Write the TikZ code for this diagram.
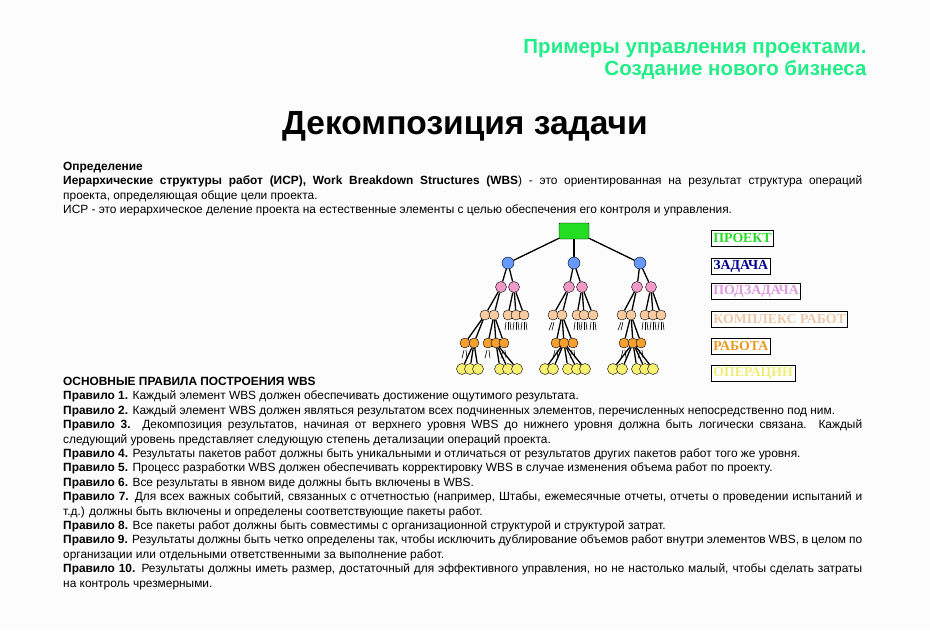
\documentclass[tikz,border=0pt]{standalone}
\usepackage{fontspec}
\setmainfont{Liberation Sans}
\newfontfamily\serifleg{Liberation Serif}
\definecolor{hdr}{HTML}{22EE88}
\definecolor{cproj}{HTML}{22DD22}
\definecolor{cblue}{HTML}{6699FF}
\definecolor{cpink}{HTML}{F19AC8}
\definecolor{cpeach}{HTML}{F8CCA0}
\definecolor{corange}{HTML}{F7A030}
\definecolor{cyellow}{HTML}{F8F070}
\definecolor{lgpink}{HTML}{DD99DD}
\definecolor{lgpeach}{HTML}{EEC8A8}
\definecolor{lgyel}{HTML}{EEEE77}
\definecolor{lgorange}{HTML}{E89A20}
\begin{document}
\begin{tikzpicture}[x=1pt,y=-1pt,
  ln/.style={line width=1.3pt,black},
  bl/.style={circle,draw=black,fill=cblue,minimum size=12pt,inner sep=0pt},
  pk/.style={circle,draw=black,fill=cpink,minimum size=11pt,inner sep=0pt},
  pc/.style={circle,draw=black,fill=cpeach,minimum size=10pt,inner sep=0pt},
  og/.style={circle,draw=black,fill=corange,minimum size=10pt,inner sep=0pt},
  yl/.style={circle,draw=black,fill=cyellow,minimum size=11pt,inner sep=0pt},
  leg/.style={draw=black,line width=0.8pt,fill=white,anchor=west,font=\serifleg\bfseries\fontsize{13.8}{14}\selectfont,inner sep=2pt,minimum height=16pt},
  body/.style={anchor=north west,text width=799pt,align=justify,inner sep=0pt,font=\fontsize{11.9}{14.4}\selectfont},
  stub/.style={line width=0.6pt}]
\fill[black!1] (0,0) rectangle (930,630);
\node[anchor=east,text=hdr,font=\bfseries\fontsize{20.5}{22}\selectfont,align=right] (hd) at (870,59) {Примеры управления проектами.\\Создание нового бизнеса};
\node[font=\bfseries\fontsize{33.5}{36}\selectfont] (ti) at (465,126) {Декомпозиция задачи};
\node[body] (def) at (63,162) {\textbf{Определение}\\
\textbf{Иерархические структуры работ (ИСР), Work Breakdown Structures (WBS}) - это ориентированная на результат структура операций\linebreak проекта, определяющая общие цели проекта.\\
ИСР - это иерархическое деление проекта на естественные элементы с целью обеспечения его контроля и управления.};
\node[body] (rules) at (63,377) {\textbf{ОСНОВНЫЕ ПРАВИЛА ПОСТРОЕНИЯ WBS}\\
\textbf{Правило 1.} Каждый элемент WBS должен обеспечивать достижение ощутимого результата.\\
\textbf{Правило 2.} Каждый элемент WBS должен являться результатом всех подчиненных элементов, перечисленных непосредственно под ним.\\
\textbf{Правило 3.} Декомпозиция результатов, начиная от верхнего уровня WBS до нижнего уровня должна быть логически связана. Каждый следующий уровень представляет следующую степень детализации операций проекта.\\
\textbf{Правило 4.} Результаты пакетов работ должны быть уникальными и отличаться от результатов других пакетов работ того же уровня.\\
\textbf{Правило 5.} Процесс разработки WBS должен обеспечивать корректировку WBS в случае изменения объема работ по проекту.\\
\textbf{Правило 6.} Все результаты в явном виде должны быть включены в WBS.\\
\textbf{Правило 7.} Для всех важных событий, связанных с отчетностью (например, Штабы, ежемесячные отчеты, отчеты о проведении испытаний и т.д.) должны быть включены и определены соответствующие пакеты работ.\\
\textbf{Правило 8.} Все пакеты работ должны быть совместимы с организационной структурой и структурой затрат.\\
\textbf{Правило 9.} Результаты должны быть четко определены так, чтобы исключить дублирование объемов работ внутри элементов WBS, в целом по организации или отдельными ответственными за выполнение работ.\\
\textbf{Правило 10.} Результаты должны иметь размер, достаточный для эффективного управления, но не настолько малый, чтобы сделать затраты\linebreak на контроль чрезмерными.};
% tree
\node[draw=black,fill=cproj,minimum width=30pt,minimum height=16pt,inner sep=0pt,rounded corners=1pt] (r) at (574,231) {};
\foreach \n/\x in {b1/508,b2/574,b3/640} \node[bl] (\n) at (\x,263) {};
\foreach \n/\x in {p1/501,p2/514,p3/569,p4/582,p5/637,p6/651} \node[pk] (\n) at (\x,287) {};
\foreach \n/\x in {c1/485,c2/494,c3/508,c4/516,c5/524,c6/553,c7/562,c8/577,c9/584,c10/593,c11/622,c12/631,c13/645,c14/653,c15/661} \node[pc] (\n) at (\x,315) {};
\foreach \n/\x in {o1/465,o2/474,o3/488,o4/496,o5/504,o6/556,o7/564,o8/573,o9/624,o10/633,o11/641} \node[og] (\n) at (\x,343) {};
\foreach \n/\x in {y1/462,y2/470,y3/478,y4/500,y5/508,y6/517,y7/545,y8/553,y9/568,y10/577,y11/585,y12/613,y13/622,y14/637,y15/645,y16/653} \node[yl] (\n) at (\x,369) {};
\foreach \a/\b in {r/b1,r/b2,r/b3,b1/p1,b1/p2,b2/p3,b2/p4,b3/p5,b3/p6,
 p1/c1,p1/c2,p2/c3,p2/c4,p2/c5,p3/c6,p3/c7,p4/c8,p4/c9,p4/c10,p5/c11,p5/c12,p6/c13,p6/c14,p6/c15,
 c1/o1,c1/o2,c2/o3,c2/o4,c2/o5,c7/o6,c7/o7,c7/o8,c12/o9,c12/o10,c12/o11,
 o2/y1,o2/y2,o2/y3,o4/y4,o4/y5,o4/y6,o7/y7,o7/y8,o7/y9,o7/y10,o7/y11,o10/y12,o10/y13,o10/y14,o10/y15,o10/y16}
  \draw[ln] (\a) -- (\b);
\foreach \n in {c3,c4,c5,c8,c9,c10,c13,c14,c15}{
  \draw[stub] (\n.south) ++(-2,2) -- ++(-1,8); \draw[stub] (\n.south) ++(2,2) -- ++(1,8);
  \draw[stub] (\n.south) ++(0,2) -- ++(0,8);}
\foreach \n in {c6,c11}{\draw[stub] (\n.south) ++(-1,2) -- ++(-3,8); \draw[stub] (\n.south) ++(1,2) -- ++(-2,8);}
\foreach \n in {o1,o3,o5,o6,o8,o9,o11}{\draw[stub] (\n.south) ++(-1,2) -- ++(-2,8); \draw[stub] (\n.south) ++(1,2) -- ++(1,8);}
% legend
\node[leg,text=cproj] (l1) at (711,238) {ПРОЕКТ};
\node[leg,text=blue!55!black] (l2) at (711,266) {ЗАДАЧА};
\node[leg,text=lgpink] (l3) at (711,291) {ПОДЗАДАЧА};
\node[leg,text=lgpeach] (l4) at (711,319) {КОМПЛЕКС РАБОТ};
\node[leg,text=lgorange] (l5) at (711,346) {РАБОТА};
\node[leg,text=lgyel] (l6) at (711,373) {ОПЕРАЦИИ};
\end{tikzpicture}
\end{document}
